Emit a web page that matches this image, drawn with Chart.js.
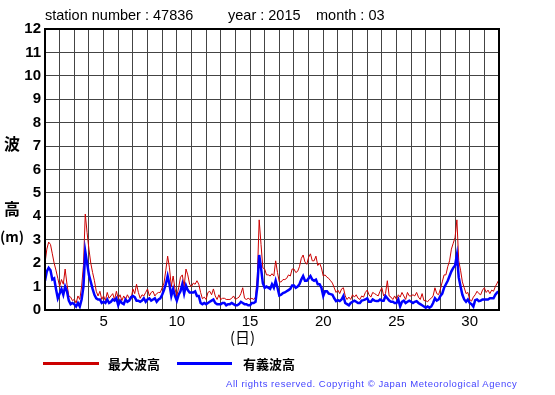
<!DOCTYPE html>
<html>
<head>
<meta charset="utf-8">
<script src="https://cdn.jsdelivr.net/npm/chart.js@4.4.1/dist/chart.umd.min.js"></script>
<style>
  html, body { margin: 0; padding: 0; background: #fff; }
  #wrap { position: relative; width: 555px; height: 395px; font-family: "Liberation Sans", Arial, sans-serif; }
  #waveChart { position: absolute; left: 0; top: 0; }
  .txt { position: absolute; white-space: nowrap; color: #000; }
  .ylab { font-family: "Noto Sans CJK JP", sans-serif; font-weight: bold; font-size: 16px; }
  .leg { font-family: "Noto Sans CJK JP", sans-serif; font-weight: bold; font-size: 13px; }
  .legline { position: absolute; height: 3px; }
</style>
</head>
<body>
<div id="wrap">
  <canvas id="waveChart" width="555" height="395"></canvas>
  <div class="txt" style="left:45px; top:7px; font-size:14.5px;">station number : 47836</div>
  <div class="txt" style="left:228px; top:7px; font-size:14.5px;">year : 2015</div>
  <div class="txt" style="left:316px; top:7px; font-size:14.5px;">month : 03</div>
  <div class="txt ylab" style="left:4px; top:131px;">波</div>
  <div class="txt ylab" style="left:4px; top:196px;">高</div>
  <div class="txt ylab" style="left:0px; top:226px; font-size:14px;">(m)</div>
  <div class="txt ylab" style="left:230px; top:326px; font-size:15px; font-weight:normal;">(日)</div>
  <div class="legline" style="left:43px; top:362px; width:56px; background:#cc0000;"></div>
  <div class="txt leg" style="left:108px; top:354px;">最大波高</div>
  <div class="legline" style="left:177px; top:362px; width:55px; background:#0000ff;"></div>
  <div class="txt leg" style="left:243px; top:354px;">有義波高</div>
  <div class="txt" style="left:226px; top:378px; font-size:9.5px; letter-spacing:0.55px; color:#4444ff;">All rights reserved. Copyright © Japan Meteorological Agency</div>
</div>
<script>
// 3-hourly readings, March 2015, starting 1st 00:00
const STEP_HOURS = 3;
const maxWave = [
  2.0, 2.6, 2.9, 2.8, 2.4, 2.0, 1.7, 1.35,
  1.0, 1.3, 1.1, 1.75, 1.1, 0.6, 0.55, 0.4,
  0.45, 0.3, 0.6, 0.45, 1.0, 1.9, 4.1, 3.3,
  2.6, 2.0, 1.6, 1.25, 0.8, 0.6, 0.8, 0.45,
  0.6, 0.4, 0.75, 0.5, 0.6, 0.7, 0.45, 0.8,
  0.5, 0.65, 0.4, 0.6, 0.45, 0.65, 0.5, 0.45,
  0.9, 0.7, 1.1, 0.75, 0.5, 0.65, 0.6, 0.75,
  0.9, 0.6, 0.75, 0.8, 0.6, 0.7, 0.75, 0.75,
  0.95, 1.15, 1.7, 2.3, 1.8, 1.0, 1.45, 0.9,
  0.6, 0.95, 1.4, 1.5, 1.0, 1.75, 1.5, 1.1,
  1.0, 1.15, 1.1, 1.25, 1.1, 0.75, 0.48, 0.55,
  0.45, 0.75, 0.8, 0.65, 0.9, 0.6, 0.45, 0.65,
  0.45, 0.5, 0.5, 0.45, 0.45, 0.45, 0.5, 0.6,
  0.45, 0.5, 0.55, 0.7, 0.95, 0.5, 0.45, 0.5,
  0.45, 0.5, 0.45, 0.55, 1.45, 3.85, 2.8, 1.8,
  1.75, 1.5, 1.5, 1.45, 1.55, 1.45, 2.1, 1.6,
  1.2, 1.2, 1.3, 1.3, 1.35, 1.5, 1.45, 1.75,
  1.75, 1.6, 1.65, 1.85, 2.2, 2.35, 2.05, 1.95,
  2.25, 2.4, 2.1, 2.1, 2.3, 1.9, 2.0, 1.8,
  1.45, 1.5, 1.4, 1.35, 1.25, 1.15, 0.95, 0.75,
  0.85, 0.7, 0.9, 0.95, 0.6, 0.45, 0.55, 0.45,
  0.65, 0.55, 0.65, 0.5, 0.45, 0.6, 0.55, 0.75,
  0.85, 0.65, 0.55, 0.75, 0.7, 0.65, 0.6, 0.8,
  0.95, 0.6, 0.7, 1.25, 0.6, 0.55, 0.45, 0.6,
  0.45, 0.65, 0.55, 0.75, 0.6, 0.45, 0.75, 0.6,
  0.6, 0.65, 0.6, 0.75, 0.55, 0.45, 0.7, 0.4,
  0.4, 0.35, 0.45, 0.5, 0.6, 0.95, 0.7, 0.65,
  0.9, 1.2, 1.5, 1.5, 1.85, 2.1, 2.6, 2.85,
  3.1, 3.85, 2.1, 1.7, 1.2, 0.95, 0.7, 0.75,
  0.45, 0.38, 0.55, 0.65, 0.8, 0.7, 0.65, 0.85,
  0.95, 0.75, 0.85, 0.7, 0.85, 0.8, 1.0, 1.15,
  1.3
];
const sigWave = [
  1.25, 1.65, 1.8, 1.7, 1.3, 1.35, 0.9, 0.5,
  0.7, 0.9, 0.65, 1.0, 0.8, 0.4, 0.25, 0.3,
  0.25, 0.15, 0.3, 0.15, 0.45, 1.0, 2.5, 2.0,
  1.5, 1.2, 0.9, 0.65, 0.5, 0.45, 0.45, 0.3,
  0.35, 0.3, 0.45, 0.3, 0.35, 0.45, 0.4, 0.5,
  0.2, 0.4, 0.3, 0.25, 0.45, 0.35, 0.4, 0.55,
  0.6, 0.55, 0.4, 0.4, 0.35, 0.4, 0.5, 0.35,
  0.45, 0.5, 0.4, 0.45, 0.5, 0.35, 0.45, 0.5,
  0.65, 0.85, 1.1, 1.45, 1.1, 0.6, 0.9, 0.6,
  0.4, 0.65, 0.8, 1.1, 0.7, 1.05, 0.85, 0.75,
  0.75, 0.75, 0.8, 0.6, 0.6, 0.3, 0.25, 0.3,
  0.25, 0.3, 0.35, 0.4, 0.45, 0.3, 0.25, 0.25,
  0.25, 0.3, 0.3, 0.2, 0.25, 0.25, 0.3, 0.25,
  0.2, 0.2, 0.25, 0.35, 0.3, 0.25, 0.25, 0.2,
  0.2, 0.3, 0.3, 0.35, 1.0, 2.35, 1.8, 1.15,
  0.95, 1.0, 0.95, 0.9, 1.1, 0.95, 1.25, 0.95,
  0.62, 0.65, 0.72, 0.75, 0.8, 0.85, 0.9, 1.05,
  1.05, 0.95, 1.0, 1.1, 1.3, 1.45, 1.25, 1.25,
  1.35, 1.45, 1.3, 1.25, 1.3, 1.1, 1.1, 0.95,
  0.6, 0.8, 0.8, 0.7, 0.68, 0.65, 0.5, 0.38,
  0.42, 0.38, 0.45, 0.6, 0.3, 0.25, 0.2, 0.3,
  0.35, 0.4, 0.35, 0.3, 0.3, 0.4, 0.42, 0.45,
  0.5, 0.35, 0.35, 0.45, 0.4, 0.38, 0.38, 0.45,
  0.4, 0.4, 0.6, 0.5, 0.4, 0.35, 0.35, 0.3,
  0.3, 0.45, 0.15, 0.35, 0.4, 0.3, 0.35, 0.4,
  0.35, 0.3, 0.35, 0.38, 0.3, 0.25, 0.2, 0.15,
  0.1, 0.15, 0.1, 0.15, 0.3, 0.5, 0.4, 0.45,
  0.6, 0.7, 0.95, 1.1, 1.25, 1.45, 1.65, 1.8,
  1.9, 2.35, 1.4, 1.0, 0.65, 0.45, 0.35, 0.45,
  0.3, 0.25, 0.15, 0.42, 0.45, 0.38, 0.4, 0.45,
  0.45, 0.45, 0.45, 0.5, 0.5, 0.5, 0.65, 0.75,
  0.8
];
const yTicks = [0, 1, 2, 3, 4, 5, 6, 7, 8, 9, 10, 11, 12];
const dayLabels = [5, 10, 15, 20, 25, 30];

function toPoints(values) {
    return values.map(function (v, i) {
        return { x: 1 + (i * STEP_HOURS) / 24, y: v };
    });
}

const frameBorder = {
    id: 'frameBorder',
    afterDatasetsDraw: function (chart) {
        const a = chart.chartArea;
        const ctx = chart.ctx;
        ctx.save();
        ctx.strokeStyle = '#000';
        ctx.lineWidth = 2;
        ctx.strokeRect(a.left, a.top, a.right - a.left, a.bottom - a.top);
        ctx.restore();
    }
};

new Chart(document.getElementById('waveChart'), {
    type: 'line',
    data: {
        datasets: [{
            label: '有義波高',
            data: toPoints(sigWave),
            borderColor: '#0000ff',
            borderWidth: 2.5,
            pointRadius: 0,
            tension: 0,
            order: 0
        }, {
            label: '最大波高',
            data: toPoints(maxWave),
            borderColor: '#cc0000',
            borderWidth: 1,
            pointRadius: 0,
            tension: 0,
            order: 1
        }]
    },
    options: {
        responsive: false,
        animation: false,
        layout: {
            padding: { left: 0, top: 29, right: 56, bottom: 0 }
        },
        plugins: {
            legend: { display: false },
            tooltip: { enabled: false }
        },
        scales: {
            x: {
                type: 'linear',
                min: 1,
                max: 32,
                afterFit: function (scale) { scale.height = 85; },
                afterBuildTicks: function (scale) {
                    const t = [];
                    for (let d = 1; d <= 32; d++) t.push({ value: d });
                    scale.ticks = t;
                },
                ticks: {
                    autoSkip: false,
                    maxRotation: 0,
                    padding: 3,
                    color: '#000',
                    font: { family: 'Liberation Sans', size: 15 },
                    callback: function (v) {
                        return dayLabels.indexOf(v) >= 0 ? String(v) : '';
                    }
                },
                grid: { color: '#444', lineWidth: 1, drawTicks: false },
                border: { display: false }
            },
            y: {
                min: 0,
                max: 12,
                afterFit: function (scale) { scale.width = 45; },
                afterBuildTicks: function (scale) {
                    scale.ticks = yTicks.map(function (v) { return { value: v }; });
                },
                ticks: {
                    padding: 4,
                    color: '#000',
                    font: { family: 'Liberation Sans', size: 15, weight: 'bold' }
                },
                grid: { color: '#444', lineWidth: 1, drawTicks: false },
                border: { display: false }
            }
        }
    },
    plugins: [frameBorder]
});
</script>
</body>
</html>
